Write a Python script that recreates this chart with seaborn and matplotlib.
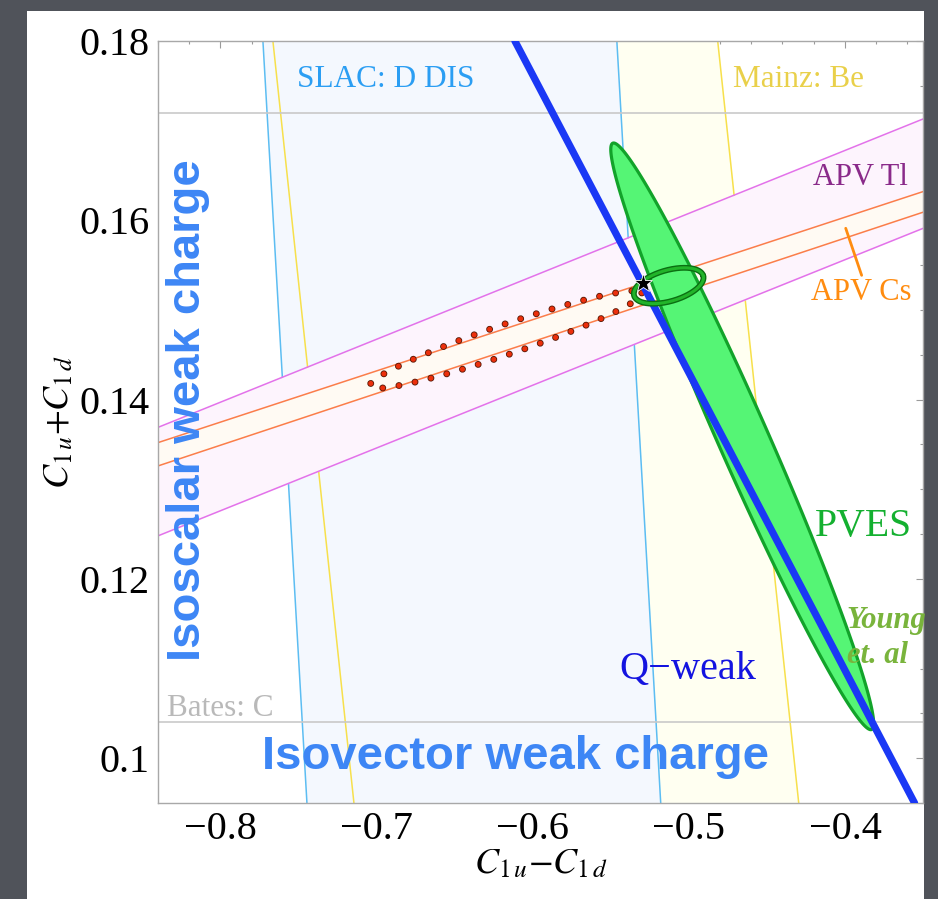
import numpy as np
import pandas as pd
import matplotlib
matplotlib.use("Agg")
import matplotlib.pyplot as plt
import seaborn as sns
from matplotlib.patches import Rectangle
from matplotlib.ticker import MultipleLocator, FixedLocator

# ---------------- data ----------------
x_limits = [-0.84, -0.35]
y_limits = [0.095, 0.18]
x_ticks = [-0.8, -0.7, -0.6, -0.5, -0.4]
x_tick_labels = ["\u22120.8", "\u22120.7", "\u22120.6", "\u22120.5", "\u22120.4"]
y_ticks = [0.10, 0.12, 0.14, 0.16, 0.18]
y_tick_labels = ["0.1", "0.12", "0.14", "0.16", "0.18"]

# near-vertical bands: x of each boundary at y = 0.18 and y = 0.095
band_y_ends = [0.18, 0.095]
slac_left_x = [-0.7728, -0.7446]
slac_right_x = [-0.5461, -0.5180]
mainz_left_x = [-0.7664, -0.7145]
mainz_right_x = [-0.4815, -0.4296]

# Bates: C horizontal boundaries
bates_y = [0.104, 0.172]

# sloped atomic parity violation bands: y of each boundary at x = -0.84 and x = -0.35
apv_x_ends = [-0.84, -0.35]
apv_tl_upper_y = [0.1369, 0.1713]
apv_tl_lower_y = [0.1248, 0.1591]
apv_cs_upper_y = [0.1352, 0.1632]
apv_cs_lower_y = [0.1326, 0.1609]

# Q-weak line
qweak_x = [-0.6114, -0.3554]
qweak_y = [0.18, 0.095]

# ellipses: centre and two semi-axis vectors (data units)
pves_center = [-0.4658, 0.1359]
pves_axis_a = [-0.0829, 0.0327]
pves_axis_b = [0.01464, 0.00113]

ring_center = [-0.5129, 0.1527]
ring_axis_a = [0.02215, 0.00111]
ring_axis_b = [0.00274, -0.001665]

dotted_center = [-0.6172, 0.1467]
dotted_axis_a = [0.08707, 0.0052]
dotted_axis_b = [0.003137, -0.001585]

# Standard Model point
sm_point = [-0.5295, 0.1530]

# APV Cs label pointer
cs_pointer_x = [-0.3995, -0.3893]
cs_pointer_y = [0.15911, 0.15386]

# ---------------- style ----------------
sns.set_theme(style="white")
plt.rcParams["font.family"] = ["Liberation Serif", "DejaVu Serif"]
plt.rcParams["mathtext.fontset"] = "stix"
plt.rcParams["lines.scale_dashes"] = False

fig = plt.figure(figsize=(9.38, 8.99), dpi=100)
fig.patch.set_facecolor("#50535a")
fig.add_artist(Rectangle((27 / 938, 0), (924 - 27) / 938, (899 - 11) / 899,
                         transform=fig.transFigure, facecolor="white",
                         edgecolor="none", zorder=-1))

ax = fig.add_axes([158 / 938, 1 - 803 / 899, (923 - 158) / 938, 762 / 899])
ax.set_facecolor("white")


def ellipse(center, a, b, n=400):
    t = np.linspace(0, 2 * np.pi, n)
    xs = center[0] + np.cos(t) * a[0] + np.sin(t) * b[0]
    ys = center[1] + np.cos(t) * a[1] + np.sin(t) * b[1]
    return pd.DataFrame({"x": xs, "y": ys})


def seg(xs, ys, **kw):
    sns.lineplot(x=xs, y=ys, ax=ax, sort=False, estimator=None, legend=False, **kw)


# Mainz (yellow) and SLAC (blue) bands
ax.fill_betweenx(band_y_ends, mainz_left_x, mainz_right_x, color="#fffff1", lw=0, zorder=1)
ax.fill_betweenx(band_y_ends, slac_left_x, slac_right_x, color="#f4f8fe", lw=0, zorder=1.1)
for xs in (mainz_left_x, mainz_right_x):
    seg(xs, band_y_ends, color="#f7e04c", linewidth=1.1, zorder=1.5)
for xs in (slac_left_x, slac_right_x):
    seg(xs, band_y_ends, color="#5cbdf2", linewidth=1.1, zorder=1.5)

# Bates lines
for yb in bates_y:
    seg(x_limits, [yb, yb], color="#c9c9c9", linewidth=1.2, zorder=1.6)

# APV bands
ax.fill_between(apv_x_ends, apv_tl_lower_y, apv_tl_upper_y, color="#fdf4fd", lw=0, zorder=2)
ax.fill_between(apv_x_ends, apv_cs_lower_y, apv_cs_upper_y, color="#fffaf3", lw=0, zorder=2.1)
for ys in (apv_tl_upper_y, apv_tl_lower_y):
    seg(apv_x_ends, ys, color="#e372ea", linewidth=1.1, zorder=2.5)
for ys in (apv_cs_upper_y, apv_cs_lower_y):
    seg(apv_x_ends, ys, color="#fb7d4a", linewidth=1.1, zorder=2.5)

# dotted red ellipse
dot = ellipse(dotted_center, dotted_axis_a, dotted_axis_b)
ax.plot(dot["x"], dot["y"], color="#5a1a08", lw=5.0, linestyle=(0, (0.01, 11.8)),
        dash_capstyle="round", zorder=3)
ax.plot(dot["x"], dot["y"], color="#ec2f0c", lw=3.7, linestyle=(0, (0.01, 11.8)),
        dash_capstyle="round", zorder=3.1)

# PVES ellipse
pv = ellipse(pves_center, pves_axis_a, pves_axis_b)
ax.fill(pv["x"], pv["y"], facecolor="#55f575", edgecolor="#12a32a", lw=2.3, zorder=4)

# Q-weak
seg(qweak_x, qweak_y, color="#1a38f5", linewidth=5.2, zorder=5)

# small ring
rg = ellipse(ring_center, ring_axis_a, ring_axis_b)
ax.plot(rg["x"], rg["y"], color="#0b6e12", lw=4.2, zorder=6)
ax.plot(rg["x"], rg["y"], color="#22b42a", lw=2.2, zorder=6.1)

# SM star
ax.plot([sm_point[0]], [sm_point[1]], marker="*", markersize=14, color="black",
        markeredgecolor="white", markeredgewidth=0.6, linestyle="none", zorder=7)

# APV Cs pointer
seg(cs_pointer_x, cs_pointer_y, color="#ff8c10", linewidth=2.0, zorder=7)

# ---------------- labels ----------------
ax.text(-0.7510, 0.17486, "SLAC: D DIS", color="#2b9ef3", fontsize=22.5, zorder=8)
ax.text(-0.4719, 0.17486, "Mainz: Be", color="#e9d04a", fontsize=22.5, zorder=8)
ax.text(-0.3598, 0.16391, "APV Tl", color="#8a2a8a", fontsize=22, ha="right", zorder=8)
ax.text(-0.3573, 0.15106, "APV Cs", color="#ff8c10", fontsize=22, ha="right", zorder=8)
ax.text(-0.3573, 0.12480, "PVES", color="#14b030", fontsize=28.5, ha="right", zorder=8)
ax.text(-0.3989, 0.11453, "Young", color="#79b43c", fontsize=22, fontstyle="italic",
        fontweight="bold", zorder=8)
ax.text(-0.3989, 0.11061, "et. al", color="#79b43c", fontsize=22, fontstyle="italic",
        fontweight="bold", zorder=8)
ax.text(-0.5442, 0.10883, "Q\u2212weak", color="#1414e0", fontsize=29, zorder=8)
ax.text(-0.8342, 0.10469, "Bates: C", color="#b9b9b9", fontsize=22.5, zorder=8)
ax.text(-0.7734, 0.09877, "Isovector weak charge", color="#3d86f5", fontsize=34,
        family="Liberation Sans", fontweight="bold", zorder=8)
ax.text(-0.8131, 0.11084, "Isoscalar weak charge", color="#3d86f5", fontsize=34,
        family="Liberation Sans", fontweight="bold", rotation=90,
        rotation_mode="anchor", ha="left", va="baseline", zorder=8)

# ---------------- axes ----------------
ax.set_xlim(x_limits)
ax.set_ylim(y_limits)
ax.xaxis.set_major_locator(FixedLocator(x_ticks))
ax.set_xticklabels(x_tick_labels)
ax.yaxis.set_major_locator(FixedLocator(y_ticks))
ax.set_yticklabels(y_tick_labels)
ax.xaxis.set_minor_locator(MultipleLocator(0.02))
ax.yaxis.set_minor_locator(MultipleLocator(0.005))
ax.tick_params(which="both", direction="in", top=True, right=True, color="#9a9a9a", width=0.8)
ax.tick_params(which="major", length=5, labelsize=29, pad=6, labelcolor="black")
ax.tick_params(which="minor", length=2.5)
for sp in ax.spines.values():
    sp.set_color("#a8a8a8")
    sp.set_linewidth(1.0)
ax.set_xlabel(r"$C_{1\,u}{-}C_{1\,d}$", fontsize=26, color="black", labelpad=0)
ax.set_ylabel(r"$C_{1\,u}{+}C_{1\,d}$", fontsize=26, color="black", labelpad=2)

fig.savefig("out.png", dpi=100, facecolor=fig.get_facecolor())
